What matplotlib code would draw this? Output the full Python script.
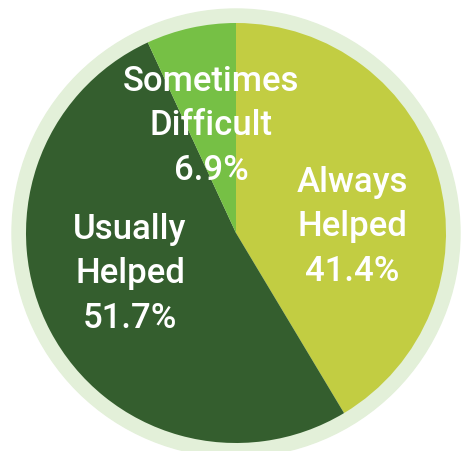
import matplotlib.pyplot as plt
from matplotlib.patches import Circle

# survey responses
categories = ["Always\nHelped", "Usually\nHelped", "Sometimes\nDifficult"]
shares = [41.4, 51.7, 6.9]
colors = ["#c2cd42", "#345e2e", "#76c045"]
ring_color = "#e3f0d9"

# last-line baseline of each label (pixel-like data units, y up)
label_xy = [(352, 171), (130, 124), (211, 272)]

plt.rcParams["font.family"] = ["Roboto", "DejaVu Sans"]

fig = plt.figure(figsize=(4.61, 4.52), dpi=100)
ax = fig.add_axes([0, 0, 1, 1])

cx, cy = 236, 218
ax.add_patch(Circle((cx, cy), 224, color=ring_color, zorder=0))

ax.pie(shares, colors=colors, startangle=90, counterclock=False,
       center=(cx, cy), radius=210, frame=True,
       wedgeprops=dict(linewidth=0))
ax.set_xlim(0, 461)
ax.set_ylim(0, 452)
ax.set_aspect("equal")
ax.axis("off")

for name, val, (x, y) in zip(categories, shares, label_xy):
    ax.text(x, y, f"{name}\n{val}%", ha="center", va="baseline",
            color="white", fontsize=25, fontweight="medium",
            linespacing=1.45)

fig.savefig("out.png", dpi=100)
